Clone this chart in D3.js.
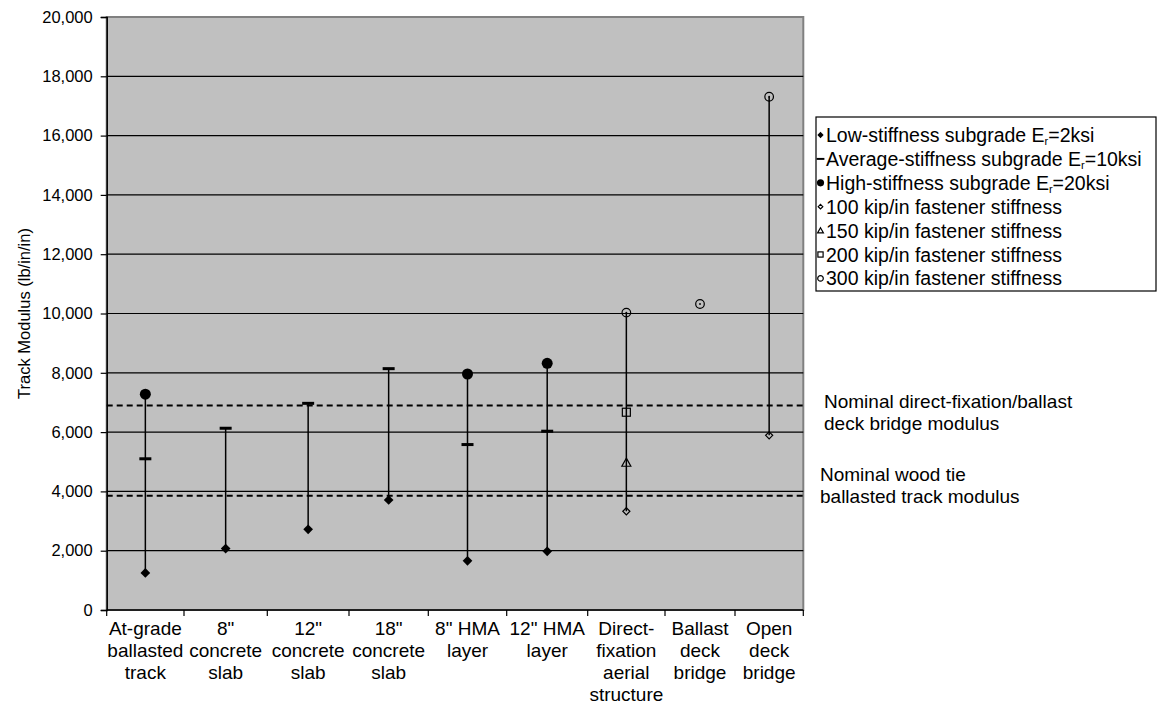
<!DOCTYPE html>
<html>
<head>
<meta charset="utf-8">
<script src="https://cdn.jsdelivr.net/npm/d3@7"></script>
<style>
  html, body { margin: 0; padding: 0; background: #fff; }
  svg { display: block; font-family: "Liberation Sans", Arial, sans-serif; }
</style>
</head>
<body>
<svg id="chart" width="1157" height="707"></svg>
<script>
// ---- data ----
const categories = [
  "At-grade\nballasted\ntrack",
  "8\"\nconcrete\nslab",
  "12\"\nconcrete\nslab",
  "18\"\nconcrete\nslab",
  "8\" HMA\nlayer",
  "12\" HMA\nlayer",
  "Direct-\nfixation\naerial\nstructure",
  "Ballast\ndeck\nbridge",
  "Open\ndeck\nbridge"
];
const lowStiffness  = [1250, 2070, 2720, 3710, 1660, 1980, null, null, null];
const avgStiffness  = [5100, 6130, 6970, 8140, 5580, 6030, null, null, null];
const highStiffness = [7280, null, null, null, 7960, 8320, null, null, null];
const fastener100   = [null, null, null, null, null, null, 3330, null, 5890];
const fastener150   = [null, null, null, null, null, null, 4970, null, null];
const fastener200   = [null, null, null, null, null, null, 6670, null, null];
const fastener300   = [null, null, null, null, null, null, 10030, 10320, 17310];
const yTicks = [0, 2000, 4000, 6000, 8000, 10000, 12000, 14000, 16000, 18000, 20000];
const nominalValues = [6900, 3850];
const nominalLabels = [
  ["Nominal direct-fixation/ballast", "deck bridge modulus"],
  ["Nominal wood tie", "ballasted track modulus"]
];
const seriesNames = [
  ["Low-stiffness subgrade E", "r", "=2ksi"],
  ["Average-stiffness subgrade E", "r", "=10ksi"],
  ["High-stiffness subgrade E", "r", "=20ksi"],
  ["100 kip/in fastener stiffness"],
  ["150 kip/in fastener stiffness"],
  ["200 kip/in fastener stiffness"],
  ["300 kip/in fastener stiffness"]
];
const yTitle = "Track Modulus (lb/in/in)";

// ---- layout ----
const svg = d3.select("#chart");
const plotLeft = 106.7, plotRight = 803.3, plotTop = 17, plotBottom = 610;
// category boundaries (piecewise layout of the category axis)
const edgePx = [106.7, 184, 267.3, 349, 428.3, 506.7, 587.7, 665, 735, 803.3];
const x = d3.scaleLinear().domain(d3.range(categories.length + 1)).range(edgePx);
const y = d3.scaleLinear().domain([0, 20000]).range([plotBottom, plotTop]);
const cx = i => x(i + 0.5);

// plot background
svg.append("rect")
  .attr("x", plotLeft).attr("y", plotTop)
  .attr("width", plotRight - plotLeft).attr("height", plotBottom - plotTop)
  .attr("fill", "#c0c0c0").attr("stroke", "#808080").attr("stroke-width", 2);

// gridlines
svg.append("g").selectAll("line").data(yTicks.filter(d => d > 0 && d < 20000)).join("line")
  .attr("x1", plotLeft).attr("x2", plotRight)
  .attr("y1", d => y(d)).attr("y2", d => y(d))
  .attr("stroke", "#000").attr("stroke-width", 1.2);

// nominal dashed lines
svg.append("g").selectAll("line").data(nominalValues).join("line")
  .attr("x1", plotLeft).attr("x2", plotRight)
  .attr("y1", d => y(d)).attr("y2", d => y(d))
  .attr("stroke", "#000").attr("stroke-width", 2).attr("stroke-dasharray", "6,4");

// y axis
const yAxis = d3.axisLeft(y).tickValues(yTicks).tickSize(6).tickPadding(8)
  .tickFormat(d3.format(","));
const gy = svg.append("g").attr("transform", `translate(${plotLeft},0)`).call(yAxis);
gy.select(".domain").attr("stroke", "#000").attr("stroke-width", 1.5);
gy.selectAll(".tick line").attr("stroke", "#000").attr("stroke-width", 1.2);
gy.selectAll(".tick text").attr("font-size", 16.5).attr("fill", "#000")
  .attr("font-family", "Liberation Sans, Arial, sans-serif");

// x axis
const gx = svg.append("g").attr("transform", `translate(0,${plotBottom})`);
gx.append("line").attr("x1", plotLeft).attr("x2", plotRight).attr("y1", 0).attr("y2", 0)
  .attr("stroke", "#000").attr("stroke-width", 1.5);
gx.selectAll("line.tk").data(d3.range(categories.length + 1)).join("line").attr("class", "tk")
  .attr("x1", d => x(d)).attr("x2", d => x(d)).attr("y1", 0).attr("y2", 6)
  .attr("stroke", "#000").attr("stroke-width", 1.2);
const lbl = gx.selectAll("text.cat").data(categories).join("text").attr("class", "cat")
  .attr("text-anchor", "middle").attr("font-size", 19).attr("fill", "#000");
lbl.each(function(d, i) {
  const t = d3.select(this);
  d.split("\n").forEach((line, k) => {
    t.append("tspan").attr("x", cx(i)).attr("y", 25 + k * 22).text(line);
  });
});

// y title
svg.append("text")
  .attr("transform", `translate(30,${(plotTop + plotBottom) / 2}) rotate(-90)`)
  .attr("text-anchor", "middle").attr("font-size", 16.5).attr("fill", "#000")
  .text(yTitle);

// high-low lines
const allSeries = [lowStiffness, avgStiffness, highStiffness, fastener100, fastener150, fastener200, fastener300];
const ranges = categories.map((c, i) => {
  const vals = allSeries.map(s => s[i]).filter(v => v != null);
  return { i, lo: d3.min(vals), hi: d3.max(vals), n: vals.length };
}).filter(r => r.n > 1);
svg.append("g").selectAll("line").data(ranges).join("line")
  .attr("x1", d => cx(d.i)).attr("x2", d => cx(d.i))
  .attr("y1", d => y(d.lo)).attr("y2", d => y(d.hi))
  .attr("stroke", "#000").attr("stroke-width", 1.5);

// marker drawing
function drawMarker(g, type, s) {
  if (type === 0) {
    g.append("path").attr("d", d3.symbol(d3.symbolDiamond2, 60 * s * s)())
      .attr("fill", "#000");
  } else if (type === 1) {
    g.append("rect").attr("x", -6 * s).attr("y", -1.5 * s).attr("width", 12 * s).attr("height", 3 * s)
      .attr("fill", "#000");
  } else if (type === 2) {
    g.append("circle").attr("r", 5.5 * s).attr("fill", "#000");
  } else if (type === 3) {
    g.append("path").attr("d", d3.symbol(d3.symbolDiamond2, 32 * s * s)())
      .attr("fill", "none").attr("stroke", "#000").attr("stroke-width", 1.2);
  } else if (type === 4) {
    const h = 4.5 * s;
    g.append("path").attr("d", `M0,${-h}L${h},${h * 0.8}L${-h},${h * 0.8}Z`)
      .attr("fill", "none").attr("stroke", "#000").attr("stroke-width", 1.2);
  } else if (type === 5) {
    g.append("rect").attr("x", -4 * s).attr("y", -4 * s).attr("width", 8 * s).attr("height", 8 * s)
      .attr("fill", "none").attr("stroke", "#000").attr("stroke-width", 1.2);
  } else if (type === 6) {
    g.append("circle").attr("r", 4.3 * s).attr("fill", "none").attr("stroke", "#000").attr("stroke-width", 1.2);
    if (s >= 1) g.append("circle").attr("r", 0.9).attr("fill", "#000");
  }
}

const markG = svg.append("g");
allSeries.forEach((series, si) => {
  series.forEach((v, i) => {
    if (v == null) return;
    const g = markG.append("g").attr("transform", `translate(${cx(i)},${y(v)})`);
    drawMarker(g, si, 1);
  });
});

// legend
const legX = 816, legY = 117, legW = 340, legH = 174;
svg.append("rect").attr("x", legX).attr("y", legY).attr("width", legW).attr("height", legH)
  .attr("fill", "#fff").attr("stroke", "#000").attr("stroke-width", 1.2);
seriesNames.forEach((nm, k) => {
  const ry = 135 + k * 23.9;
  const g = svg.append("g").attr("transform", `translate(820.5,${ry})`);
  drawMarker(g, k, 0.65);
  const t = svg.append("text").attr("x", 826).attr("y", ry).attr("dy", "0.36em")
    .attr("font-size", 19.5).attr("fill", "#000");
  t.append("tspan").text(nm[0]);
  if (nm.length > 1) {
    t.append("tspan").attr("font-size", 11).attr("dy", 3).text(nm[1]);
    t.append("tspan").attr("dy", -3).text(nm[2]);
  }
});

// nominal labels
const nomPos = [[824, 401], [820, 474]];
nominalLabels.forEach((lines, k) => {
  lines.forEach((line, j) => {
    svg.append("text").attr("x", nomPos[k][0]).attr("y", nomPos[k][1] + j * 22.3).attr("dy", "0.36em")
      .attr("font-size", 19).attr("fill", "#000").text(line);
  });
});
</script>
</body>
</html>
